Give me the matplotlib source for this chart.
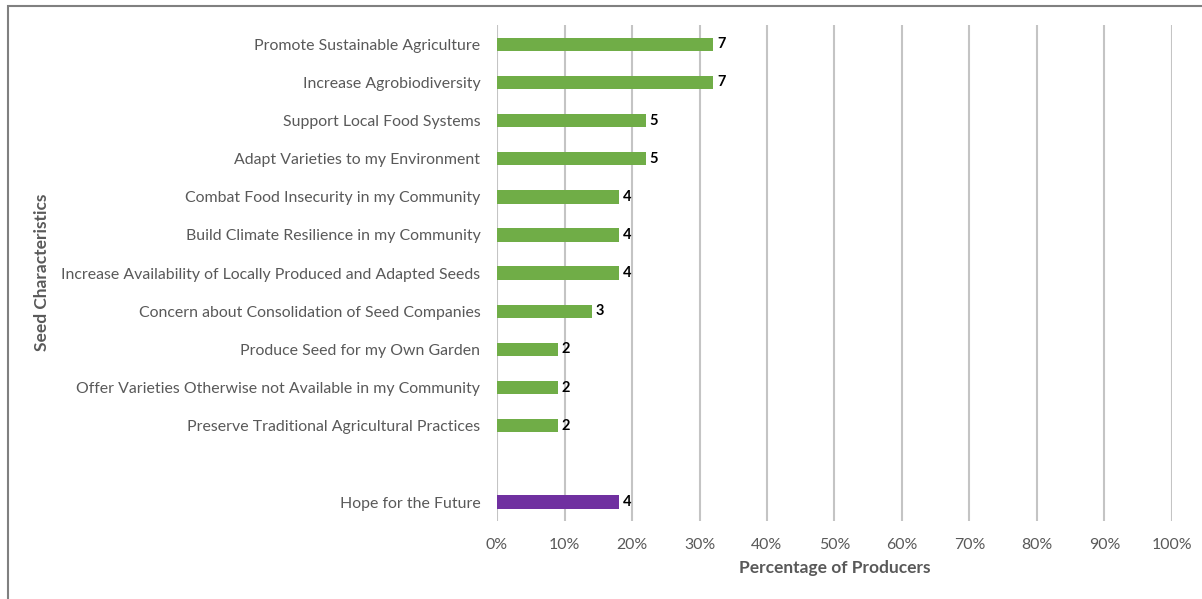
import matplotlib.pyplot as plt
import matplotlib.patches as mpatches
import numpy as np

plt.rcParams['font.family'] = ['Lato', 'DejaVu Sans']

categories = [
    "Promote Sustainable Agriculture",
    "Increase Agrobiodiversity",
    "Support Local Food Systems",
    "Adapt Varieties to my Environment",
    "Combat Food Insecurity in my Community",
    "Build Climate Resilience in my Community",
    "Increase Availability of Locally Produced and Adapted Seeds",
    "Concern about Consolidation of Seed Companies",
    "Produce Seed for my Own Garden",
    "Offer Varieties Otherwise not Available in my Community",
    "Preserve Traditional Agricultural Practices",
    "",
    "Hope for the Future",
]
counts = [7, 7, 5, 5, 4, 4, 4, 3, 2, 2, 2, None, 4]
percents = [32, 32, 22, 22, 18, 18, 18, 14, 9, 9, 9, None, 18]
colors = ['#70AD47'] * 11 + ['none', '#7030A0']

fig = plt.figure(figsize=(12.02, 5.99), dpi=100)
ax = fig.add_axes([0.4135, 0.130, 0.5615, 0.828])

y = np.arange(len(categories))
for i in range(len(categories)):
    if percents[i] is None:
        continue
    ax.barh(y[i], percents[i], height=0.35, color=colors[i], zorder=3)
    ax.text(percents[i] + 0.6, y[i], str(counts[i]), va='center', ha='left',
            fontsize=10.5, fontweight='bold', color='black')

ax.set_xlim(0, 100)
ax.set_ylim(12.5, -0.5)
ax.set_xticks(np.arange(0, 101, 10))
ax.set_xticklabels([f"{v}%" for v in range(0, 101, 10)])
ax.set_yticks(y)
ax.set_yticklabels(categories)
ax.tick_params(axis='both', length=0, labelsize=11.4, labelcolor='#595959')
ax.tick_params(axis='y', pad=12)
ax.tick_params(axis='x', pad=12)
ax.grid(axis='x', color='#C4C4C4', linewidth=1.5, zorder=0)
for s in ax.spines.values():
    s.set_visible(False)

ax.set_xlabel("Percentage of Producers", fontsize=12.5, fontweight='bold', color='#595959', labelpad=6)
fig.text(0.035, 0.545, "Seed Characteristics", rotation=90, fontsize=12.5, fontweight='bold',
         color='#595959', ha='center', va='center')

frame = mpatches.Rectangle((8 / 1202, -0.1), 1.2, 1 - 6.5 / 599 + 0.1, transform=fig.transFigure,
                           fill=False, edgecolor='#808080', linewidth=1.5)
fig.patches.append(frame)

fig.savefig('out.png', dpi=100)
